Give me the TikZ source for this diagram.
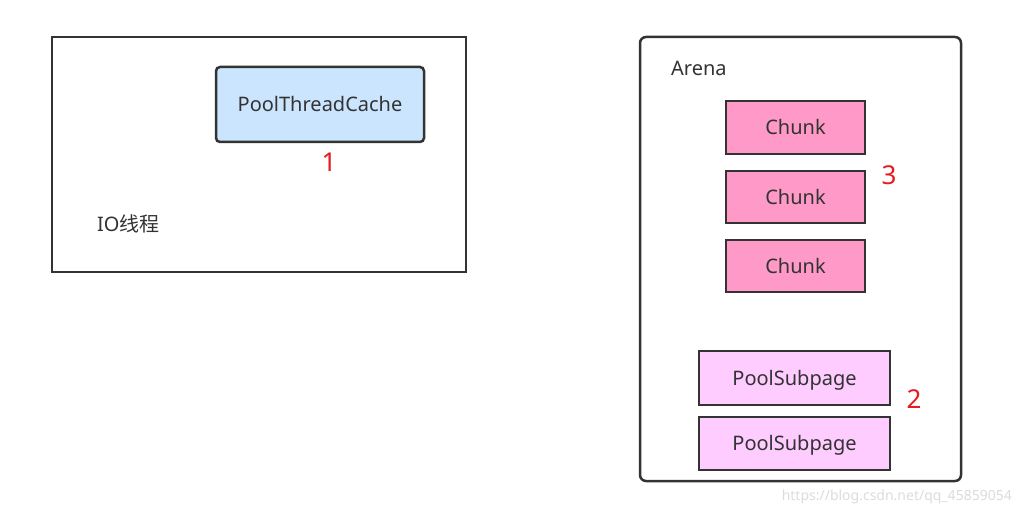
\documentclass[tikz,border=0pt]{standalone}
\usepackage{fontspec}
\setmainfont{Noto Sans}
\newfontfamily\cjk{Noto Sans CJK SC}
\definecolor{edge}{HTML}{333333}
\definecolor{cachefill}{HTML}{CCE5FF}
\definecolor{chunkfill}{HTML}{FF99C8}
\definecolor{subfill}{HTML}{FFCCFF}
\definecolor{numred}{HTML}{E8191F}
\definecolor{wm}{HTML}{DCDCDC}
\tikzset{
  frame/.style={draw=edge, line width=2.5pt},
  box/.style={draw=edge, line width=2.5pt, text=edge, font=\fontsize{20}{23}\selectfont, inner sep=0pt, text height=16pt, text depth=2pt},
  num/.style={text=numred, font=\fontsize{26}{29}\selectfont, inner sep=0pt},
  lbl/.style={text=edge, font=\fontsize{20}{23}\selectfont, inner sep=0pt},
}
\begin{document}
\begin{tikzpicture}[x=1pt,y=-1pt]
\useasboundingbox[fill=white] (0,0) rectangle (1020,516);
% IO thread frame
\node[frame, minimum width=414pt, minimum height=235pt, inner sep=0pt] (io) at (259,154.5) {};
\node[box, fill=cachefill, rounded corners=4pt, minimum width=208pt, minimum height=75pt] (cache) at (320,104.5) {PoolThreadCache};
\node[num] (n1) at (329,162) {1};
\node[lbl, anchor=west] (iolbl) at (97,224) {IO{\cjk 线程}};
% Arena frame
\node[frame, rounded corners=6pt, minimum width=321pt, minimum height=444pt, inner sep=0pt] (arena) at (800.5,259) {};
\node[lbl, anchor=west] (arenalbl) at (671,68) {Arena};
\node[box, fill=chunkfill, minimum width=139pt, minimum height=53pt] (c1) at (795.5,127.5) {Chunk};
\node[box, fill=chunkfill, minimum width=139pt, minimum height=52pt] (c2) at (795.5,197) {Chunk};
\node[box, fill=chunkfill, minimum width=139pt, minimum height=52pt] (c3) at (795.5,266) {Chunk};
\node[num] (n3) at (889,175) {3};
\node[box, fill=subfill, minimum width=191pt, minimum height=54pt] (s1) at (794.5,378) {PoolSubpage};
\node[box, fill=subfill, minimum width=191pt, minimum height=53pt] (s2) at (794.5,443.5) {PoolSubpage};
\node[num] (n2) at (914,399) {2};
% watermark
\node[text=wm, font=\fontsize{14}{16}\selectfont, anchor=east, inner sep=0pt] (wmk) at (1012,497) {https://blog.csdn.net/qq\_45859054};
\end{tikzpicture}
\end{document}
